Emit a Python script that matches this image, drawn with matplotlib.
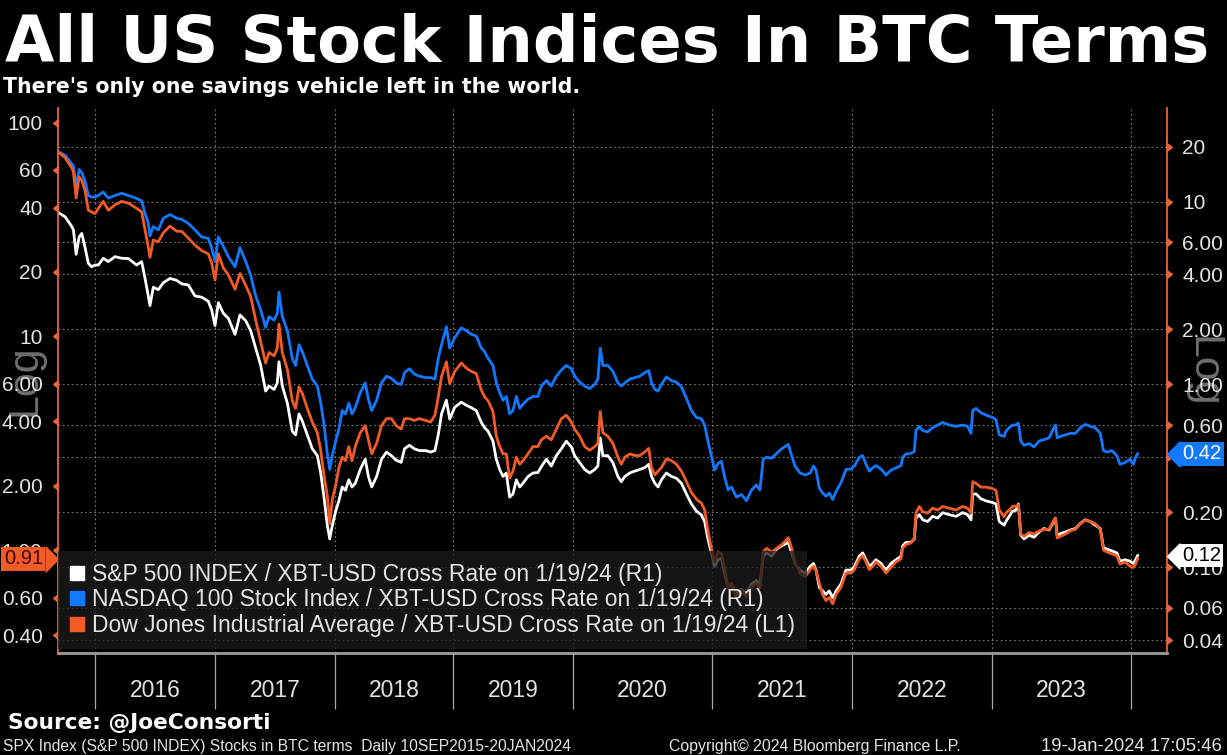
import numpy as np
import matplotlib
matplotlib.use("Agg")
import matplotlib.pyplot as plt
from matplotlib.lines import Line2D
from matplotlib.path import Path
from matplotlib.ticker import NullLocator
from matplotlib import font_manager

# sample dates (decimal years) and ratios
years = [
    2015.694, 2015.750, 2015.806, 2015.819, 2015.842, 2015.867, 2015.889, 2015.917, 2015.944, 2015.972,
    2016.000, 2016.028, 2016.069, 2016.111, 2016.167, 2016.222, 2016.278, 2016.347, 2016.389, 2016.417,
    2016.444, 2016.458, 2016.486, 2016.528, 2016.569, 2016.625, 2016.681, 2016.722, 2016.778, 2016.833,
    2016.889, 2016.944, 2016.972, 2017.000, 2017.028, 2017.069, 2017.111, 2017.167, 2017.208,
    2017.256, 2017.297, 2017.339, 2017.381, 2017.422, 2017.450, 2017.492, 2017.519, 2017.533, 2017.561,
    2017.603, 2017.644, 2017.672, 2017.700, 2017.728, 2017.769, 2017.811, 2017.853, 2017.881, 2017.908,
    2017.936, 2017.956, 2017.978, 2018.006, 2018.033, 2018.061, 2018.089, 2018.117, 2018.144, 2018.172,
    2018.214, 2018.256, 2018.283, 2018.311, 2018.353, 2018.394, 2018.436, 2018.478, 2018.519, 2018.561,
    2018.589, 2018.631, 2018.672, 2018.714, 2018.769, 2018.811,
    2018.847, 2018.875, 2018.903, 2018.944, 2018.972, 2019.014, 2019.069, 2019.111, 2019.153, 2019.194,
    2019.236, 2019.264, 2019.292, 2019.333, 2019.361, 2019.389, 2019.417, 2019.444, 2019.472, 2019.500,
    2019.528, 2019.556, 2019.583, 2019.625, 2019.667, 2019.708, 2019.736, 2019.778, 2019.819, 2019.861,
    2019.903, 2019.944, 2019.986, 2020.012, 2020.048, 2020.084, 2020.120, 2020.156, 2020.179, 2020.196,
    2020.215, 2020.251, 2020.287, 2020.323, 2020.347,
    2020.373, 2020.409, 2020.445, 2020.481, 2020.517, 2020.545, 2020.565, 2020.589, 2020.612, 2020.636,
    2020.672, 2020.708, 2020.744, 2020.780, 2020.816, 2020.852, 2020.888, 2020.923, 2020.947, 2020.971,
    2020.995, 2021.019, 2021.043, 2021.067, 2021.091, 2021.115, 2021.139, 2021.175, 2021.211, 2021.246,
    2021.282, 2021.318, 2021.342, 2021.366, 2021.390, 2021.426, 2021.462, 2021.498, 2021.545, 2021.569,
    2021.593, 2021.629, 2021.665, 2021.701, 2021.725,
    2021.743, 2021.767, 2021.790, 2021.814, 2021.838, 2021.862, 2021.886, 2021.921, 2021.957, 2021.993,
    2022.017, 2022.052, 2022.076, 2022.100, 2022.124, 2022.148, 2022.171, 2022.207, 2022.243, 2022.279,
    2022.314, 2022.350, 2022.362, 2022.386, 2022.421, 2022.445, 2022.457, 2022.481, 2022.505, 2022.540,
    2022.576, 2022.612, 2022.648, 2022.695, 2022.743, 2022.790, 2022.826, 2022.850, 2022.862, 2022.886,
    2022.921, 2022.957, 2023.005, 2023.029, 2023.052, 2023.088,
    2023.100, 2023.124, 2023.148, 2023.171, 2023.190, 2023.207, 2023.231, 2023.267, 2023.302, 2023.338,
    2023.374, 2023.410, 2023.445, 2023.457, 2023.469, 2023.493, 2023.529, 2023.564, 2023.600, 2023.636,
    2023.671, 2023.707, 2023.743, 2023.779, 2023.802, 2023.826, 2023.862, 2023.898, 2023.921, 2023.957,
    2023.993, 2024.017, 2024.033, 2024.048,
]

spx_btc = [
    8.7, 8.25, 7.3, 7.0, 5.15, 6.4, 6.7, 5.6, 4.6, 4.4,
    4.5, 4.5, 4.9, 4.7, 5.0, 4.9, 4.88, 4.5, 4.7, 3.8,
    3.05, 2.7, 3.4, 3.3, 3.6, 3.8, 3.71, 3.55, 3.5, 3.05,
    3.0, 2.85, 2.56, 2.1, 2.8, 2.45, 2.3, 1.88, 2.4,
    2.23, 1.97, 1.58, 1.27, 0.92, 0.98, 0.94, 1.02, 1.33, 0.98,
    0.79, 0.555, 0.53, 0.69, 0.63, 0.53, 0.445, 0.408, 0.328, 0.242,
    0.170, 0.143, 0.170, 0.203, 0.231, 0.275, 0.264, 0.301, 0.275, 0.288,
    0.343, 0.39, 0.314, 0.275, 0.314, 0.39, 0.427, 0.408, 0.385, 0.375,
    0.445, 0.465, 0.445, 0.435, 0.435, 0.427,
    0.435, 0.53, 0.69, 0.82, 0.646, 0.75, 0.80, 0.77, 0.746, 0.72,
    0.62, 0.58, 0.555, 0.49, 0.39, 0.343, 0.314, 0.328, 0.242, 0.252,
    0.301, 0.275, 0.288, 0.314, 0.328, 0.33, 0.355, 0.39, 0.358, 0.408,
    0.445, 0.49, 0.455, 0.408, 0.374, 0.343, 0.328, 0.343, 0.358, 0.51,
    0.408, 0.408, 0.374, 0.314, 0.294,
    0.314, 0.328, 0.336, 0.343, 0.351, 0.366, 0.314, 0.288, 0.275, 0.301,
    0.328, 0.314, 0.307, 0.288, 0.252, 0.222, 0.203, 0.194, 0.178, 0.143,
    0.120, 0.101, 0.110, 0.1125, 0.0925, 0.0776, 0.081, 0.0711, 0.0759, 0.0711,
    0.081, 0.0847, 0.0793, 0.115, 0.120, 0.115, 0.126, 0.131, 0.137, 0.120,
    0.105, 0.0966, 0.093, 0.101, 0.105,
    0.0966, 0.0776, 0.0743, 0.0711, 0.0743, 0.0681, 0.0743, 0.081, 0.0966, 0.0966,
    0.101, 0.115, 0.120, 0.110, 0.101, 0.105, 0.110, 0.105, 0.0966, 0.105,
    0.110, 0.115, 0.131, 0.137, 0.137, 0.143, 0.186, 0.194, 0.182, 0.178,
    0.19, 0.186, 0.199, 0.194, 0.19, 0.199, 0.194, 0.182, 0.252, 0.252,
    0.237, 0.231, 0.226, 0.222, 0.178, 0.170,
    0.178, 0.19, 0.203, 0.205, 0.222, 0.150, 0.143, 0.150, 0.146, 0.156,
    0.163, 0.160, 0.178, 0.186, 0.148, 0.153, 0.156, 0.160, 0.163, 0.174,
    0.182, 0.178, 0.170, 0.163, 0.128, 0.126, 0.123, 0.120, 0.108, 0.110,
    0.108, 0.105, 0.110, 0.116,
]

ndx_btc = [
    18.7, 17.9, 16.0, 15.7, 12.0, 15.0, 14.4, 12.9, 10.8, 10.6,
    10.6, 10.8, 11.3, 10.45, 10.8, 11.1, 10.8, 10.4, 10.1, 8.6,
    7.6, 6.5, 7.3, 7.0, 8.1, 8.5, 8.1, 8.0, 7.6, 7.0,
    6.4, 6.3, 5.6, 4.7, 6.4, 5.7, 5.0, 4.4, 5.6,
    4.7, 3.96, 3.05, 2.56, 2.05, 2.35, 2.25, 2.45, 3.2, 2.35,
    1.97, 1.39, 1.27, 1.65, 1.51, 1.27, 1.07, 0.98, 0.79, 0.605,
    0.42, 0.343, 0.41, 0.49, 0.57, 0.72, 0.69, 0.79, 0.69, 0.75,
    0.9, 1.02, 0.83, 0.72, 0.82, 1.02, 1.11, 1.08, 1.02, 1.0,
    1.16, 1.22, 1.14, 1.11, 1.09, 1.09,
    1.07, 1.39, 1.65, 2.07, 1.58, 1.80, 2.04, 1.97, 1.88, 1.84,
    1.58, 1.51, 1.39, 1.27, 1.02, 0.90, 0.82, 0.86, 0.69, 0.72,
    0.86, 0.74, 0.78, 0.83, 0.86, 0.86, 0.98, 1.05, 0.98, 1.11,
    1.2, 1.27, 1.22, 1.11, 1.03, 0.98, 0.95, 1.0, 1.07, 1.58,
    1.27, 1.27, 1.18, 1.02, 0.98,
    1.02, 1.07, 1.09, 1.11, 1.16, 1.19, 1.02, 0.94, 0.92, 1.0,
    1.1, 1.05, 1.03, 0.97, 0.84, 0.72, 0.66, 0.65, 0.60, 0.49,
    0.408, 0.34, 0.37, 0.38, 0.31, 0.265, 0.275, 0.242, 0.25, 0.231,
    0.265, 0.282, 0.265, 0.39, 0.40, 0.395, 0.42, 0.445, 0.47, 0.408,
    0.358, 0.328, 0.32, 0.328, 0.358,
    0.34, 0.27, 0.255, 0.245, 0.255, 0.235, 0.26, 0.29, 0.343, 0.345,
    0.358, 0.40, 0.408, 0.366, 0.336, 0.35, 0.36, 0.345, 0.32, 0.34,
    0.35, 0.36, 0.40, 0.417, 0.42, 0.43, 0.56, 0.59, 0.56, 0.55,
    0.58, 0.6, 0.62, 0.6, 0.59, 0.6, 0.59, 0.54, 0.72, 0.74,
    0.7, 0.68, 0.66, 0.64, 0.53, 0.52,
    0.555, 0.58, 0.6, 0.6, 0.615, 0.49, 0.465, 0.475, 0.455, 0.49,
    0.50, 0.51, 0.58, 0.60, 0.51, 0.52, 0.53, 0.54, 0.54, 0.58,
    0.605, 0.59, 0.58, 0.54, 0.435, 0.427, 0.435, 0.408, 0.366, 0.374,
    0.39, 0.366, 0.40, 0.418,
]

dow_btc = [
    72.6, 68.5, 61.2, 58.9, 44.4, 55.7, 53.7, 47.9, 38.9, 38.2,
    37.5, 39.7, 42.8, 38.9, 41.2, 42.8, 42.0, 39.7, 38.2, 31.6,
    26.2, 23.4, 28.2, 27.7, 30.5, 32.8, 31.0, 31.0, 28.8, 26.7,
    25.2, 24.3, 22.1, 18.3, 24.3, 20.9, 19.4, 16.6, 19.7,
    17.3, 15.4, 11.9, 9.4, 7.5, 8.4, 8.1, 8.8, 11.4, 8.4,
    7.0, 5.0, 4.6, 5.8, 5.4, 4.6, 3.97, 3.54, 2.93, 2.25,
    1.79, 1.33, 1.73, 2.01, 2.43, 2.72, 2.62, 3.05, 2.62, 3.05,
    3.54, 3.82, 3.28, 2.82, 3.16, 3.82, 4.12, 4.12, 3.82, 3.68,
    4.12, 4.12, 4.04, 4.12, 4.04, 3.97,
    4.28, 5.2, 6.5, 7.6, 6.0, 6.85, 7.5, 7.1, 6.85, 6.7,
    5.6, 5.2, 5.0, 4.45, 3.41, 3.05, 2.82, 2.82, 2.17, 2.34,
    2.72, 2.52, 2.62, 2.82, 3.05, 3.05, 3.28, 3.41, 3.28, 3.68,
    4.12, 4.28, 3.97, 3.68, 3.41, 3.05, 2.93, 3.05, 3.16, 4.45,
    3.54, 3.41, 3.16, 2.72, 2.52,
    2.72, 2.82, 2.77, 2.77, 2.88, 2.99, 2.43, 2.25, 2.34, 2.43,
    2.67, 2.62, 2.52, 2.34, 2.09, 1.86, 1.73, 1.66, 1.54, 1.23,
    1.02, 0.88, 0.98, 0.96, 0.81, 0.67, 0.70, 0.60, 0.65, 0.60,
    0.67, 0.70, 0.66, 0.98, 1.02, 0.98, 1.02, 1.06, 1.14, 1.02,
    0.88, 0.78, 0.75, 0.81, 0.84,
    0.80, 0.70, 0.62, 0.58, 0.60, 0.56, 0.62, 0.67, 0.78, 0.78,
    0.81, 0.91, 0.94, 0.88, 0.81, 0.84, 0.88, 0.84, 0.78, 0.83,
    0.88, 0.91, 1.02, 1.06, 1.08, 1.14, 1.49, 1.60, 1.51, 1.49,
    1.57, 1.54, 1.60, 1.57, 1.54, 1.60, 1.57, 1.49, 2.09, 2.05,
    1.97, 1.97, 1.94, 1.90, 1.54, 1.43,
    1.49, 1.54, 1.60, 1.60, 1.63, 1.19, 1.16, 1.21, 1.19, 1.23,
    1.25, 1.25, 1.38, 1.41, 1.14, 1.16, 1.19, 1.23, 1.25, 1.33,
    1.38, 1.36, 1.33, 1.25, 1.00, 0.98, 0.96, 0.94, 0.86, 0.88,
    0.84, 0.83, 0.86, 0.91,
]

legend_labels = [
    "S&P 500 INDEX / XBT-USD Cross Rate on 1/19/24 (R1)",
    "NASDAQ 100 Stock Index / XBT-USD Cross Rate on 1/19/24 (R1)",
    "Dow Jones Industrial Average / XBT-USD Cross Rate on 1/19/24 (L1)",
]
year_labels = ["2016", "2017", "2018", "2019", "2020", "2021", "2022", "2023"]

right_ticks = [0.04, 0.06, 0.1, 0.2, 0.4, 0.6, 1, 2, 4, 6, 10, 20]
right_labels = ["0.04", "0.06", "0.10", "0.20", "0.40", "0.60", "1.00", "2.00", "4.00", "6.00", "10", "20"]
left_ticks = [0.4, 0.6, 1, 2, 4, 6, 10, 20, 40, 60, 100]
left_labels = ["0.40", "0.60", "1.00", "2.00", "4.00", "6.00", "10", "20", "40", "60", "100"]

# Bloomberg spaces the time axis by data points, so years are not equally wide:
# year boundaries -> pixel position along the axis
axis_years = [2015.69, 2016, 2017, 2018, 2019, 2020, 2021, 2022, 2023, 2024, 2024.26]
axis_px = [58, 95, 215, 335, 453, 573, 712, 852, 992, 1131, 1167]

WHITE = "#ffffff"
BLUE = "#1279ff"
ORANGE = "#f35b26"
SPINE = "#e5653a"
TXT = "#e4e4e4"

names = {f.name for f in font_manager.fontManager.ttflist}
NARROW = "Liberation Sans Narrow" if "Liberation Sans Narrow" in names else "Liberation Sans"
plt.rcParams["font.family"] = ["Liberation Sans", "DejaVu Sans"]

fig = plt.figure(figsize=(12.27, 7.55), dpi=100, facecolor="black")
ax = fig.add_axes([58 / 1227, 102 / 755, 1109 / 1227, 545 / 755])
ax.set_facecolor("black")


def fwd(x):
    return np.interp(x, axis_years, axis_px)


def inv(p):
    return np.interp(p, axis_px, axis_years)


ax.set_xscale("function", functions=(fwd, inv))
ax2 = ax.twinx()

ax.plot(years, ndx_btc, color=BLUE, lw=2.0, zorder=2)
ax.plot(years, spx_btc, color=WHITE, lw=2.0, zorder=3)
ax2.plot(years, dow_btc, color=ORANGE, lw=2.0, zorder=2)

ax.set_yscale("log")
ax2.set_yscale("log")
ax.set_xlim(axis_years[0], axis_years[-1])

# y axes: R1 on the right (ax), L1 on the left (ax2, drawn on top)
ax.yaxis.tick_right()
ax.set_yticks(right_ticks, right_labels)
ax.yaxis.set_minor_locator(NullLocator())
ax.tick_params(axis="y", which="both", length=0, pad=11, labelsize=15, labelcolor=TXT)
ax2.yaxis.tick_left()
ax2.set_yticks(left_ticks, left_labels)
ax2.yaxis.set_minor_locator(NullLocator())
ax2.tick_params(axis="y", which="both", length=0, pad=11, labelsize=15, labelcolor=TXT)
ax.set_ylim(0.034, 32.5)
ax2.set_ylim(0.33, 117)

# x axis: long separators at year starts, year names centred in between
ax.set_xticks(range(2016, 2025))
ax.set_xticklabels([])
ax.set_xticks([y + 0.5 for y in range(2016, 2024)], minor=True)
ax.set_xticklabels(year_labels, minor=True)
ax.tick_params(axis="x", which="major", length=40, width=0.9, color="#a8a8a8", direction="out")
ax.tick_params(axis="x", which="minor", length=0, pad=19, labelsize=16.5, labelcolor=TXT,
               labelfontfamily=NARROW)

ax.grid(axis="both", which="major", color="#7c7c7c", ls=(0, (1.5, 2.5)), lw=0.8)

for s in ["top", "left"]:
    ax.spines[s].set_visible(False)
ax.spines["right"].set_color(SPINE)
ax.spines["right"].set_linewidth(1.3)
ax.spines["bottom"].set_color("#9c9c9c")
ax.spines["bottom"].set_linewidth(2)
for s in ["top", "right", "bottom"]:
    ax2.spines[s].set_visible(False)
ax2.spines["left"].set_color(SPINE)
ax2.spines["left"].set_linewidth(1.3)

# little triangular tick marks on both spines
tri_left = Path([(0, -1), (0, 1), (-1.3, 0), (0, -1)],
                [Path.MOVETO, Path.LINETO, Path.LINETO, Path.CLOSEPOLY])
tri_right = Path([(0, -1), (0, 1), (1.3, 0), (0, -1)],
                 [Path.MOVETO, Path.LINETO, Path.LINETO, Path.CLOSEPOLY])
ax2.plot(np.zeros(len(left_ticks)), left_ticks, ls="none", marker=tri_left, ms=7, color=SPINE,
         transform=ax2.get_yaxis_transform(), clip_on=False)
ax.plot(np.ones(len(right_ticks)), right_ticks, ls="none", marker=tri_right, ms=7, color=SPINE,
        transform=ax.get_yaxis_transform(), clip_on=False)

# last value tags
tip_r = Path([(-1, -1), (0, 0), (-1, 1), (-1, -1)],
             [Path.MOVETO, Path.LINETO, Path.LINETO, Path.CLOSEPOLY])
tip_l = Path([(1, -1), (0, 0), (1, 1), (1, -1)],
             [Path.MOVETO, Path.LINETO, Path.LINETO, Path.CLOSEPOLY])


def tag(axis, side, value, fc, tc):
    tr = axis.get_yaxis_transform()
    if side == "left":
        axis.plot([0], [value], marker=tip_r, ms=18, color=fc, ls="none", transform=tr,
                  clip_on=False, zorder=20)
        axis.annotate(f"{value:.2f}", xy=(0, value), xycoords=tr, xytext=(-15, 0),
                      textcoords="offset pixels", ha="right", va="center", fontsize=14.5,
                      color=tc, zorder=20, annotation_clip=False,
                      bbox=dict(boxstyle="square,pad=0.12", fc=fc, ec="none"))
    else:
        axis.plot([1], [value], marker=tip_l, ms=18, color=fc, ls="none", transform=tr,
                  clip_on=False, zorder=20)
        axis.annotate(f"{value:.2f}", xy=(1, value), xycoords=tr, xytext=(15, 0),
                      textcoords="offset pixels", ha="left", va="center", fontsize=14.5,
                      color=tc, zorder=20, annotation_clip=False,
                      bbox=dict(boxstyle="square,pad=0.12", fc=fc, ec="none"))


tag(ax2, "left", dow_btc[-1], ORANGE, "#3a0800")
tag(ax, "right", ndx_btc[-1], BLUE, "white")
tag(ax, "right", spx_btc[-1], WHITE, "black")

# legend sits on top of everything
handles = [Line2D([], [], ls="none", marker="s", ms=10, mfc=c, mec=c) for c in (WHITE, BLUE, ORANGE)]
leg = ax2.legend(handles, legend_labels, loc="lower left", bbox_to_anchor=(0, 0.008),
                 frameon=True, fancybox=False, facecolor="#1b1b1b", edgecolor="none",
                 framealpha=0.78, handlelength=0.7, handletextpad=0.3, borderaxespad=0,
                 labelspacing=0.12, borderpad=0.5, prop={"family": NARROW, "size": 16.5})
leg.set_zorder(30)
for t in leg.get_texts():
    t.set_color(TXT)

# faint "Log" marks behind the tick labels
fig.text(24 / 1227, 1 - 380 / 755, "Log", rotation=90, ha="center", va="center",
         color="#6e6e6e", fontsize=31, zorder=-1)
fig.text(1203 / 1227, 1 - 372 / 755, "Log", rotation=270, ha="center", va="center",
         color="#6e6e6e", fontsize=31, zorder=-1)


def fit(txt, width):
    r = fig.canvas.get_renderer()
    w = txt.get_window_extent(r).width
    txt.set_fontsize(txt.get_fontsize() * width / w)


title = fig.text(5 / 1227, 1 - 62 / 755, "All US Stock Indices In BTC Terms", color="white",
                 fontsize=45, fontweight="bold", family="DejaVu Sans", va="baseline")
sub = fig.text(3 / 1227, 1 - 93 / 755, "There's only one savings vehicle left in the world.",
               color="white", fontsize=15, fontweight="bold", family="DejaVu Sans", va="baseline")
src = fig.text(8 / 1227, 1 - 729 / 755, "Source: @JoeConsorti", color="white", fontsize=15,
               fontweight="bold", family="DejaVu Sans", va="baseline")
f1 = fig.text(3 / 1227, 1 - 751 / 755,
              "SPX Index (S&P 500 INDEX) Stocks in BTC terms  Daily 10SEP2015-20JAN2024",
              color=TXT, fontsize=12, family=NARROW, va="baseline")
f2 = fig.text(669 / 1227, 1 - 751 / 755, "Copyright\u00a9 2024 Bloomberg Finance L.P.",
              color=TXT, fontsize=12, family=NARROW, va="baseline")
f3 = fig.text(1222 / 1227, 1 - 751 / 755, "19-Jan-2024 17:05:46", color=TXT, fontsize=12,
              family=NARROW, va="baseline", ha="right")

fig.canvas.draw()
fit(title, 1205)
fit(sub, 579)
fit(src, 264)
fit(f1, 566)
fit(f2, 292)
fit(f3, 181)

fig.savefig("out.png", dpi=100, facecolor="black")
